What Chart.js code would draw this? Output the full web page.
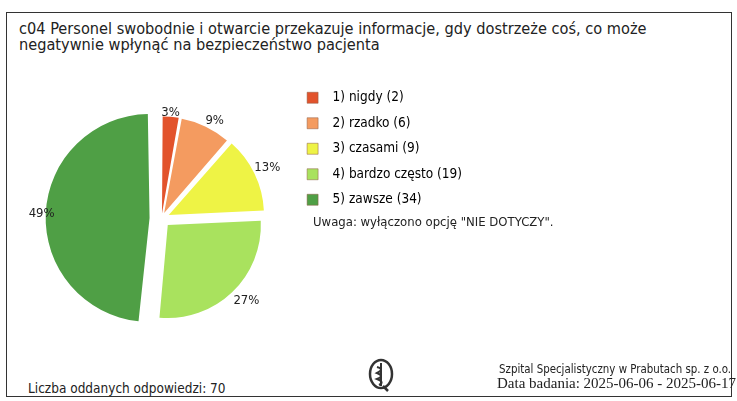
<!DOCTYPE html>
<html>
<head>
<meta charset="utf-8">
<script src="https://cdn.jsdelivr.net/npm/chart.js@4"></script>
<style>
  html, body { margin: 0; padding: 0; background: #fff; }
  body { width: 737px; height: 401px; position: relative; overflow: hidden;
         font-family: "DejaVu Sans Condensed", "DejaVu Sans", sans-serif; color: #222; }
  #frame { position: absolute; left: 6px; top: 12px; width: 726px; height: 385px;
           border: 1.5px solid #333; box-sizing: border-box; }
  #title { position: absolute; left: 19px; top: 21px; font-size: 16.2px; line-height: 16px; }
  #wrap { position: absolute; left: 0; top: 70px; width: 600px; height: 296px; }
  #note { position: absolute; left: 313px; top: 214px; font-size: 13px; }
  #count { position: absolute; left: 28px; top: 380px; font-size: 13.5px; }
  #firm { position: absolute; left: 499px; top: 362px; font-size: 11.4px; }
  #dates { position: absolute; left: 497px; top: 375px; font-size: 15px;
           font-family: "Liberation Serif", "DejaVu Serif", serif; }
  #logo { position: absolute; left: 368px; top: 358px; }
</style>
</head>
<body>
<div id="frame"></div>
<div id="title">c04 Personel swobodnie i otwarcie przekazuje informacje, gdy dostrzeże coś, co może<br>negatywnie wpłynąć na bezpieczeństwo pacjenta</div>
<div id="wrap"><canvas id="pie"></canvas></div>
<div id="note">Uwaga: wyłączono opcję "NIE DOTYCZY".</div>
<div id="count">Liczba oddanych odpowiedzi: 70</div>
<svg id="logo" width="26" height="34" viewBox="0 0 26 34">
  <ellipse cx="13" cy="16" rx="11" ry="14" fill="none" stroke="#333" stroke-width="2.5"/>
  <line x1="13" y1="5" x2="13" y2="28" stroke="#333" stroke-width="2"/>
  <path d="M9 9 Q17 11 9 15 Q17 18 9 21 Q17 24 11 27" fill="none" stroke="#333" stroke-width="2"/>
  <path d="M15 28 L20 33" stroke="#333" stroke-width="2.5"/>
</svg>
<div id="firm">Szpital Specjalistyczny w Prabutach sp. z o.o.</div>
<div id="dates">Data badania: 2025-06-06 - 2025-06-17</div>

<script>
const LABELS = ["1) nigdy", "2) rzadko", "3) czasami", "4) bardzo często", "5) zawsze"];
const COUNTS = [2, 6, 9, 19, 34];
const COLORS = ["#e2532c", "#f49b60", "#eef345", "#a9e25e", "#4f9f45"];
// Chart.js v4 draws an arc offset at a quarter of this value
const OFFSETS = [20, 24, 32, 36, 48];

const FONT = "'DejaVu Sans Condensed', 'DejaVu Sans', sans-serif";

// percentage labels outside each slice
const outerLabels = {
  id: "outerLabels",
  afterDatasetsDraw(chart) {
    const ctx = chart.ctx;
    const meta = chart.getDatasetMeta(0);
    const total = COUNTS.reduce((a, b) => a + b, 0);
    ctx.save();
    ctx.fillStyle = "#222";
    ctx.font = "13px " + FONT;
    meta.data.forEach((arc, i) => {
      const p = arc.getProps(["x", "y", "startAngle", "endAngle", "outerRadius"], true);
      const mid = (p.startAngle + p.endAngle) / 2;
      const d = p.outerRadius + OFFSETS[i] / 4 + 2;
      const cx = Math.cos(mid), sy = Math.sin(mid);
      const x = p.x + cx * d, y = p.y + sy * d;
      ctx.textAlign = cx > 0.3 ? "left" : cx < -0.3 ? "right" : "center";
      ctx.textBaseline = sy > 0.3 ? "top" : sy < -0.3 ? "bottom" : "middle";
      ctx.fillText(Math.round(COUNTS[i] / total * 100) + "%", x, y);
    });
    ctx.restore();
  },
};

new Chart(document.getElementById("pie"), {
  type: "pie",
  data: {
    labels: LABELS,
    datasets: [{
      data: COUNTS,
      backgroundColor: COLORS,
      borderWidth: 0,
      offset: OFFSETS,
    }],
  },
  options: {
    responsive: true,
    maintainAspectRatio: false,
    animation: false,
    radius: 93,
    layout: { padding: { left: 28, right: 128, top: 9, bottom: 8 } },
    plugins: {
      tooltip: { enabled: false },
      legend: {
        position: "right",
        align: "start",
        labels: {
          color: "#222",
          font: { size: 13.5, family: FONT },
          boxWidth: 11,
          boxHeight: 11,
          padding: 12,
          generateLabels(chart) {
            return LABELS.map((l, i) => ({
              text: "  " + l + " (" + COUNTS[i] + ")",
              fillStyle: COLORS[i],
              strokeStyle: "#8a5a40",
              lineWidth: 0.5,
              index: i,
            }));
          },
        },
      },
    },
  },
  plugins: [outerLabels],
});
</script>
</body>
</html>
